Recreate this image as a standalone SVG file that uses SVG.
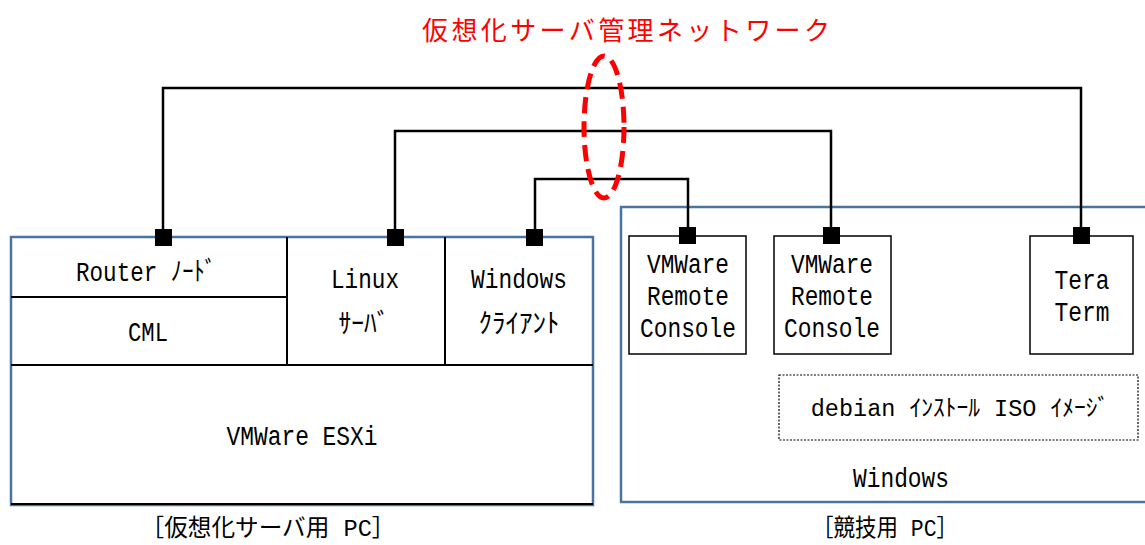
<svg xmlns="http://www.w3.org/2000/svg" width="1145" height="545" viewBox="0 0 1145 545">
<style>
.t{font-family:"Liberation Mono","Noto Sans CJK JP",monospace;font-size:27px;fill:#000;text-anchor:middle}
.j{font-family:"Liberation Mono","Noto Sans CJK JP",sans-serif;font-size:24px;fill:#000;text-anchor:middle}
.blue{fill:#fff;stroke:#4a74a0;stroke-width:2.5}
.in{stroke:#000;stroke-width:2;fill:none}
.box{fill:#fff;stroke:#000;stroke-width:1.5}
.wire{fill:none;stroke:#000;stroke-width:2.5}
.sq{fill:#000}
</style>
<rect width="1145" height="545" fill="#fff"/>
<g id="title">
<text x="422" y="40" font-family="Noto Sans CJK JP, sans-serif" font-size="26" fill="#ff0000" letter-spacing="3.4">仮想化サーバ管理ネットワーク</text>
</g>
<g id="server-pc">
<rect class="blue" x="11" y="237" width="582" height="268"/>
<line class="in" x1="11" y1="297" x2="287" y2="297"/>
<line class="in" x1="287" y1="237" x2="287" y2="365"/>
<line class="in" x1="445" y1="237" x2="445" y2="365"/>
<line class="in" x1="11" y1="365" x2="593" y2="365"/>
<line class="in" x1="11" y1="504" x2="593" y2="504"/>
</g>
<g id="router"><text class="t" x="146" y="281" textLength="140" lengthAdjust="spacingAndGlyphs">Router ﾉｰﾄﾞ</text></g>
<g id="cml"><text class="t" x="148" y="341" textLength="40" lengthAdjust="spacingAndGlyphs">CML</text></g>
<g id="linux"><text class="t" x="365" y="288" textLength="68" lengthAdjust="spacingAndGlyphs">Linux</text><text class="t" x="364" y="333" textLength="51" lengthAdjust="spacingAndGlyphs">ｻｰﾊﾞ</text></g>
<g id="windows-client"><text class="t" x="519" y="288" textLength="96" lengthAdjust="spacingAndGlyphs">Windows</text><text class="t" x="519" y="333" textLength="81" lengthAdjust="spacingAndGlyphs">ｸﾗｲｱﾝﾄ</text></g>
<g id="esxi"><text class="t" x="302" y="445" textLength="151" lengthAdjust="spacingAndGlyphs">VMWare ESXi</text></g>
<g id="label-server"><text class="j" x="268" y="536" textLength="255" lengthAdjust="spacingAndGlyphs">［仮想化サーバ用 PC］</text></g>

<g id="contest-pc">
<rect class="blue" x="621" y="207" width="534" height="295"/>
<text class="t" x="901" y="487" textLength="96" lengthAdjust="spacingAndGlyphs">Windows</text>
</g>
<g id="vmrc1"><rect class="box" x="629" y="236" width="117" height="118"/>
<text class="t" x="688" y="273" textLength="82" lengthAdjust="spacingAndGlyphs">VMWare</text>
<text class="t" x="688" y="305" textLength="82" lengthAdjust="spacingAndGlyphs">Remote</text>
<text class="t" x="688" y="337" textLength="96" lengthAdjust="spacingAndGlyphs">Console</text></g>
<g id="vmrc2"><rect class="box" x="774" y="236" width="117" height="118"/>
<text class="t" x="832" y="273" textLength="82" lengthAdjust="spacingAndGlyphs">VMWare</text>
<text class="t" x="832" y="305" textLength="82" lengthAdjust="spacingAndGlyphs">Remote</text>
<text class="t" x="832" y="337" textLength="96" lengthAdjust="spacingAndGlyphs">Console</text></g>
<g id="teraterm"><rect class="box" x="1030" y="236" width="103" height="118"/>
<text class="t" x="1082" y="289" textLength="55" lengthAdjust="spacingAndGlyphs">Tera</text>
<text class="t" x="1082" y="321" textLength="55" lengthAdjust="spacingAndGlyphs">Term</text></g>
<g id="iso"><rect x="779" y="375" width="359" height="65" fill="none" stroke="#000" stroke-width="1.2" stroke-dasharray="2 1.5"/>
<text class="t" x="960" y="416" style="font-size:23.5px">debian ｲﾝｽﾄｰﾙ ISO ｲﾒｰｼﾞ</text></g>
<g id="label-contest"><text class="j" x="885" y="536" textLength="146" lengthAdjust="spacingAndGlyphs">［競技用 PC］</text></g>

<g id="connectors">
<polyline class="wire" points="163,238 163,88 1081,88 1081,236"/>
<polyline class="wire" points="395,238 395,131 831,131 831,236"/>
<polyline class="wire" points="535,238 535,179 688,179 688,236"/>
<rect class="sq" x="155" y="229" width="17" height="17"/>
<rect class="sq" x="387" y="229" width="17" height="17"/>
<rect class="sq" x="526" y="229" width="17" height="17"/>
<rect class="sq" x="679" y="227" width="17" height="17"/>
<rect class="sq" x="823" y="227" width="17" height="17"/>
<rect class="sq" x="1073" y="227" width="17" height="17"/>
</g>
<g id="network-marker">
<ellipse cx="604" cy="127" rx="20" ry="71" fill="none" stroke="#ff0000" stroke-width="5" stroke-dasharray="16 8"/>
</g>
</svg>
